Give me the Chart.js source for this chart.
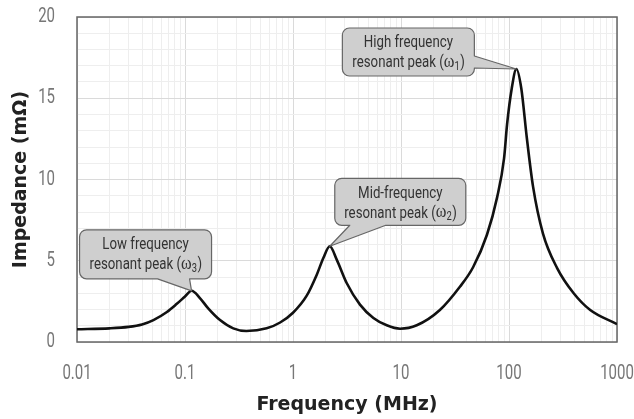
<!DOCTYPE html>
<html>
<head>
<meta charset="utf-8">
<script src="https://cdn.jsdelivr.net/npm/chart.js@4.4.0/dist/chart.umd.min.js"></script>
<style>
html, body { margin: 0; padding: 0; background: #fff; }
</style>
</head>
<body>
<canvas id="chartImpedance" width="634" height="419"></canvas>
<script>
const chartImpedance = document.getElementById("chartImpedance");

// Data
const freqMHz = [0.01, 0.02, 0.03, 0.04, 0.051, 0.068, 0.084, 0.1, 0.115, 0.138, 0.164, 0.211, 0.28, 0.37, 0.57,
	0.76, 1.0, 1.34, 1.66, 1.91, 2.19, 2.54, 3.14, 4.17, 5.55, 7.38, 9.8, 14, 22.9, 35.1, 46.5, 62.5, 77.6,
	90, 96, 106, 117, 130, 146, 167, 206, 279, 397, 565, 1000];
const impedance = [0.78, 0.84, 0.93, 1.08, 1.35, 1.85, 2.35, 2.8, 3.15, 2.69, 2.07, 1.35, 0.84, 0.68, 0.84,
	1.2, 1.8, 2.85, 4.14, 5.17, 5.89, 5.07, 3.63, 2.3, 1.48, 1.03, 0.82, 1.03, 1.97, 3.4, 4.6, 6.6, 8.9,
	11.3, 13.4, 15.6, 16.8, 15.6, 12.6, 9.56, 6.69, 4.55, 3.0, 1.97, 1.1];

// Ticks
const xTickLabels = [0.01, 0.1, 1, 10, 100, 1000];
const yTickLabels = [0, 5, 10, 15, 20];

// Callouts
const calloutTitles = ["High frequency", "Mid-frequency", "Low frequency"];
const calloutSubs = ["1", "2", "3"];
const calloutPeaks = [117, 2.19, 0.115];

// box offsets from the peak point (pixels) and pointer side
const calloutBoxes = [
	{ left: -174, right: -42, top: -41, bottom: 7, side: "right", p1: -13, p2: -1 },
	{ left: 5, right: 136, top: -68, bottom: -21, side: "bottom", p1: 20, p2: 56 },
	{ left: -112, right: 20, top: -61, bottom: -12, side: "bottom", p1: -34, p2: -2 }
];

const labelFont = "Roboto, 'DejaVu Sans', sans-serif";
const boldFont = "'DejaVu Sans', sans-serif";

// grid lines: every 1..9 inside each decade
let xGridValues = [];
xTickLabels.forEach(function(dec, i){
	xGridValues.push(dec);
	if (i < xTickLabels.length - 1) {
		for (let k = 2; k <= 9; k++) xGridValues.push(dec * k);
	}
});

let points = [];
freqMHz.forEach(function(f, i){
	points.push({ x: f, y: impedance[i] });
});

// narrow text (no condensed font installed, so squeeze it)
function narrowText(ctx, text, x, y, align, sx) {
	ctx.save();
	ctx.translate(x, y);
	ctx.scale(sx, 1);
	ctx.textAlign = align;
	ctx.fillText(text, 0, 0);
	ctx.restore();
}

const frameAndCallouts = {
	id: "frameAndCallouts",
	beforeDatasetsDraw(chart) {
		const ctx = chart.ctx;
		const a = chart.chartArea;
		const xs = chart.scales.x, ys = chart.scales.y;
		ctx.save();
		ctx.strokeStyle = "#666";
		ctx.lineWidth = 1.5;
		ctx.strokeRect(a.left, a.top, a.right - a.left, a.bottom - a.top);

		// tick labels
		ctx.fillStyle = "#777";
		ctx.font = "20px " + labelFont;
		ctx.textBaseline = "middle";
		xTickLabels.forEach(function(v){
			narrowText(ctx, String(v), xs.getPixelForValue(v), a.bottom + 32, "center", 0.75);
		});
		yTickLabels.forEach(function(v){
			narrowText(ctx, String(v), a.left - 22, ys.getPixelForValue(v), "right", 0.75);
		});
		ctx.restore();
	},
	afterDatasetsDraw(chart) {
		const ctx = chart.ctx;
		const xs = chart.scales.x, ys = chart.scales.y;
		calloutPeaks.forEach(function(pf, i){
			const idx = freqMHz.indexOf(pf);
			const tx = xs.getPixelForValue(pf);
			const ty = ys.getPixelForValue(impedance[idx]);
			const b = calloutBoxes[i];
			const x0 = tx + b.left, x1 = tx + b.right, y0 = ty + b.top, y1 = ty + b.bottom;
			const r = 7;
			ctx.save();
			ctx.beginPath();
			ctx.moveTo(x0 + r, y0);
			ctx.lineTo(x1 - r, y0);
			ctx.arcTo(x1, y0, x1, y0 + r, r);
			if (b.side == "right") {
				ctx.lineTo(x1, ty + b.p1);
				ctx.lineTo(tx, ty);
				ctx.lineTo(x1, ty + b.p2);
			}
			ctx.lineTo(x1, y1 - r);
			ctx.arcTo(x1, y1, x1 - r, y1, r);
			if (b.side == "bottom") {
				ctx.lineTo(tx + b.p2, y1);
				ctx.lineTo(tx, ty);
				ctx.lineTo(tx + b.p1, y1);
			}
			ctx.lineTo(x0 + r, y1);
			ctx.arcTo(x0, y1, x0, y1 - r, r);
			ctx.lineTo(x0, y0 + r);
			ctx.arcTo(x0, y0, x0 + r, y0, r);
			ctx.closePath();
			ctx.fillStyle = "#cfcfcf";
			ctx.fill();
			ctx.strokeStyle = "#666";
			ctx.lineWidth = 1.2;
			ctx.lineJoin = "round";
			ctx.stroke();

			// text
			const sx = 0.78;
			const cx = (x0 + x1) / 2;
			ctx.fillStyle = "#333";
			ctx.textBaseline = "middle";
			ctx.font = "17px " + labelFont;
			narrowText(ctx, calloutTitles[i], cx, y0 + 15, "center", sx);

			const partA = "resonant peak (";
			const partW = "\u03c9";
			const partS = calloutSubs[i];
			const partC = ")";
			ctx.font = "17px " + labelFont;
			const wA = ctx.measureText(partA).width * sx;
			const wC = ctx.measureText(partC).width * sx;
			ctx.font = "18px 'Liberation Serif', serif";
			const wW = ctx.measureText(partW).width * 0.9;
			ctx.font = "12px " + labelFont;
			const wS = ctx.measureText(partS).width * sx;
			let x = cx - (wA + wW + wS + wC) / 2;
			const ly = y0 + 35;
			ctx.font = "17px " + labelFont;
			narrowText(ctx, partA, x, ly, "left", sx); x += wA;
			ctx.font = "18px 'Liberation Serif', serif";
			narrowText(ctx, partW, x, ly - 1, "left", 0.9); x += wW;
			ctx.font = "12px " + labelFont;
			narrowText(ctx, partS, x, ly + 4, "left", sx); x += wS + 0.5;
			ctx.font = "17px " + labelFont;
			narrowText(ctx, partC, x, ly, "left", sx);
			ctx.restore();
		});
	}
};

const impChart = new Chart(chartImpedance, {
	type: "line",
	data: {
		datasets: [{
			data: points,
			borderColor: "#111",
			borderWidth: 2.6,
			pointRadius: 0,
			fill: false,
			cubicInterpolationMode: "monotone"
		}]
	},
	plugins: [frameAndCallouts],
	options: {
		responsive: false,
		animation: false,
		events: [],
		layout: {
			padding: { top: 17, right: 17, left: 0, bottom: 0 }
		},
		plugins: {
			legend: { display: false },
			tooltip: { enabled: false }
		},
		scales: {
			x: {
				type: "logarithmic",
				min: 0.01,
				max: 1000,
				afterBuildTicks: function(scale){
					scale.ticks = xGridValues.map(function(v){ return { value: v }; });
				},
				afterFit: function(scale){
					scale.height = 77;
					scale.paddingLeft = 0;
					scale.paddingRight = 0;
				},
				border: { display: false },
				grid: {
					drawTicks: false,
					color: function(c){
						return xTickLabels.indexOf(c.tick.value) >= 0 ? "#dadada" : "#eeeeee";
					}
				},
				ticks: { display: false, autoSkip: false },
				title: {
					display: true,
					text: "Frequency (MHz)",
					color: "#222",
					font: { family: boldFont, size: 19, weight: "bold" },
					padding: { top: 0, bottom: 3 }
				}
			},
			y: {
				min: 0,
				max: 20,
				afterFit: function(scale){
					scale.width = 77;
					scale.paddingTop = 0;
					scale.paddingBottom = 0;
				},
				border: { display: false },
				grid: {
					drawTicks: false,
					color: function(c){
						return yTickLabels.indexOf(c.tick.value) >= 0 ? "#dadada" : "#eeeeee";
					}
				},
				ticks: { display: false, stepSize: 1, autoSkip: false },
				title: {
					display: true,
					text: "Impedance (m\u03a9)",
					color: "#222",
					font: { family: boldFont, size: 19, weight: "bold" },
					padding: { top: 10, bottom: 0 }
				}
			}
		}
	}
});
</script>
</body>
</html>
